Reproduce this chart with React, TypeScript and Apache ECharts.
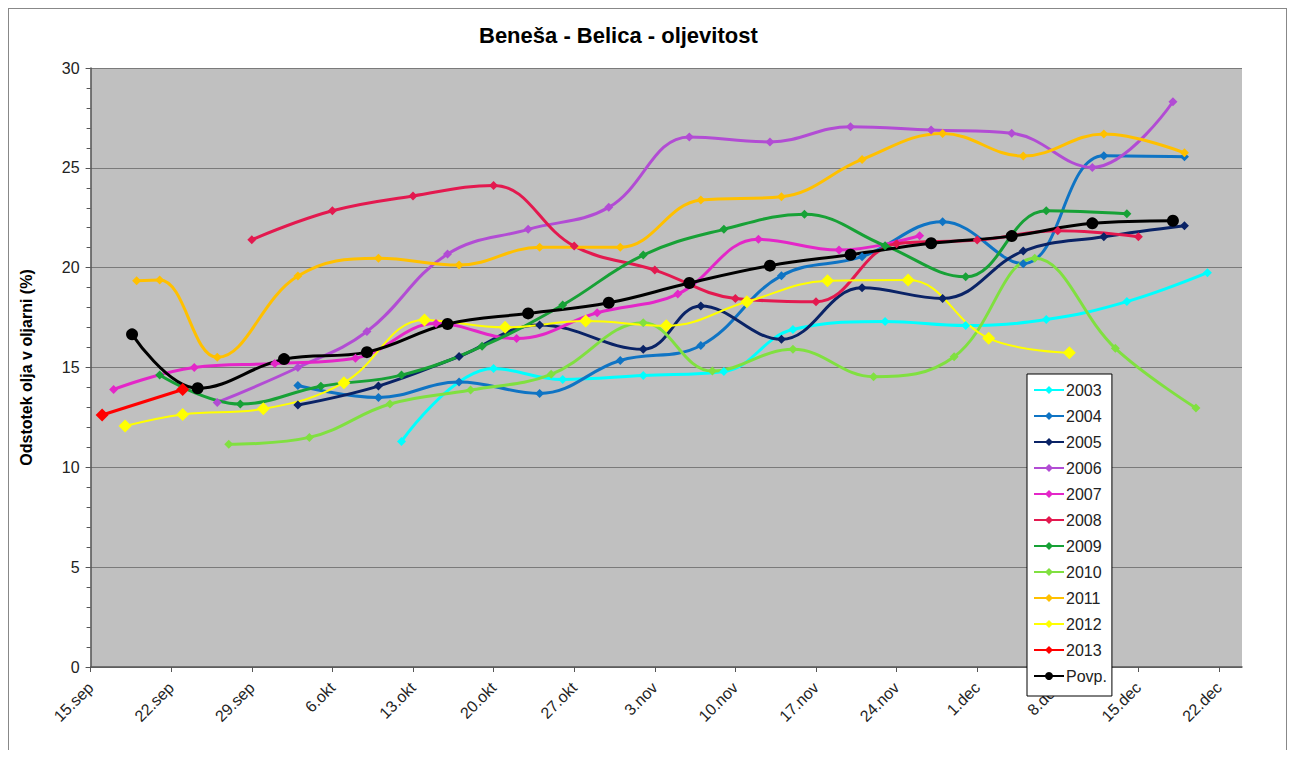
import React, { useEffect, useRef } from "react";
import * as echarts from "echarts";

// x values are days after 15 Sep
const tickLabels = ["15.sep", "22.sep", "29.sep", "6.okt", "13.okt", "20.okt", "27.okt", "3.nov", "10.nov", "17.nov", "24.nov", "1.dec", "8.dec", "15.dec", "22.dec"];

const days2003 = [27, 35, 41, 48, 55, 61, 69, 76, 83, 90, 97];
const vals2003 = [11.3, 14.95, 14.4, 14.6, 14.8, 16.9, 17.3, 17.1, 17.4, 18.3, 19.75];

const days2004 = [18, 25, 32, 39, 46, 53, 60, 67, 74, 81, 88, 95];
const vals2004 = [14.1, 13.5, 14.27, 13.7, 15.35, 16.1, 19.6, 20.55, 22.3, 20.2, 25.6, 25.55];

const days2005 = [18, 25, 32, 39, 48, 53, 60, 67, 74, 81, 88, 95];
const vals2005 = [13.12, 14.07, 15.55, 17.13, 15.91, 18.08, 16.41, 18.99, 18.46, 20.83, 21.55, 22.1];

const days2006 = [11, 18, 24, 31, 38, 45, 52, 59, 66, 73, 80, 87, 94];
const vals2006 = [13.25, 15.0, 16.8, 20.68, 21.92, 23.02, 26.55, 26.3, 27.06, 26.89, 26.73, 25.02, 28.31];

const days2007 = [2, 9, 16, 23, 30, 37, 44, 51, 58, 65, 72];
const vals2007 = [13.9, 15.0, 15.2, 15.46, 17.2, 16.45, 17.74, 18.68, 21.42, 20.88, 21.6];

const days2008 = [14, 21, 28, 35, 42, 49, 56, 63, 70, 77, 84, 91];
const vals2008 = [21.4, 22.85, 23.59, 24.12, 21.08, 19.88, 18.46, 18.29, 21.2, 21.38, 21.85, 21.55];

const days2009 = [6, 13, 20, 27, 34, 41, 48, 55, 62, 69, 76, 83, 90];
const vals2009 = [14.62, 13.17, 14.06, 14.62, 16.06, 18.13, 20.63, 21.92, 22.67, 21.1, 19.54, 22.85, 22.7];

const days2010 = [12, 19, 26, 33, 40, 48, 54, 61, 68, 75, 82, 89, 96];
const vals2010 = [11.15, 11.5, 13.17, 13.87, 14.66, 17.24, 14.82, 15.91, 14.54, 15.54, 20.47, 15.96, 12.97];

const days2011 = [4, 6, 11, 18, 25, 32, 39, 46, 53, 60, 67, 74, 81, 88, 95];
const vals2011 = [19.34, 19.38, 15.51, 19.58, 20.47, 20.13, 21.02, 21.02, 23.39, 23.55, 25.42, 26.72, 25.59, 26.69, 25.75];

const days2012 = [3, 8, 15, 22, 29, 36, 43, 50, 57, 64, 71, 78, 85];
const vals2012 = [12.07, 12.65, 12.93, 14.24, 17.38, 17.01, 17.33, 17.09, 18.29, 19.34, 19.38, 16.46, 15.74];

const days2013 = [1, 8];
const vals2013 = [12.62, 13.9];

const daysPovp = [3.6, 9.3, 16.8, 24, 31, 38, 45, 52, 59, 66, 73, 80, 87, 94];
const valsPovp = [16.66, 13.96, 15.42, 15.77, 17.18, 17.71, 18.24, 19.23, 20.1, 20.65, 21.22, 21.58, 22.22, 22.35];

const FONT = "'Liberation Sans', Arial, sans-serif";

const seriesCfg = [
  { name: "2003", days: days2003, vals: vals2003, color: "#00FFFF", symbol: "diamond", size: 9, width: 3 },
  { name: "2004", days: days2004, vals: vals2004, color: "#0F74C4", symbol: "diamond", size: 9, width: 3 },
  { name: "2005", days: days2005, vals: vals2005, color: "#0A2366", symbol: "diamond", size: 9, width: 3 },
  { name: "2006", days: days2006, vals: vals2006, color: "#B24CD4", symbol: "diamond", size: 9, width: 3 },
  { name: "2007", days: days2007, vals: vals2007, color: "#E426C8", symbol: "diamond", size: 9, width: 3 },
  { name: "2008", days: days2008, vals: vals2008, color: "#E3194F", symbol: "diamond", size: 9, width: 3 },
  { name: "2009", days: days2009, vals: vals2009, color: "#17A136", symbol: "diamond", size: 9, width: 3 },
  { name: "2010", days: days2010, vals: vals2010, color: "#80E040", symbol: "diamond", size: 9, width: 3 },
  { name: "2011", days: days2011, vals: vals2011, color: "#FFC000", symbol: "diamond", size: 9, width: 3 },
  { name: "2012", days: days2012, vals: vals2012, color: "#FFFF00", symbol: "diamond", size: 13, width: 2 },
  { name: "2013", days: days2013, vals: vals2013, color: "#FF0000", symbol: "diamond", size: 13, width: 3 },
  { name: "Povp.", days: daysPovp, vals: valsPovp, color: "#000000", symbol: "circle", size: 12, width: 3 },
];

export default function App() {
  const ref = useRef<HTMLDivElement>(null);
  useEffect(() => {
    if (!ref.current) return;
    const chart = echarts.init(ref.current, undefined, { renderer: "svg" });
    const tickValues = tickLabels.map((_, i) => i * 7);
    chart.setOption({
      animation: false,
      backgroundColor: "#ffffff",
      title: {
        text: "Beneša - Belica - oljevitost",
        left: 465,
        top: 10,
        textStyle: { fontFamily: FONT, fontSize: 22, fontWeight: "bold", color: "#000" },
      },
      grid: {
        left: 81.6,
        top: 59,
        width: 1151.4,
        height: 599,
        show: true,
        backgroundColor: "#C0C0C0",
        borderWidth: 0,
      },
      legend: {
        orient: "vertical",
        left: 1018,
        top: 365,
        padding: [8, 5, 12, 6],
        backgroundColor: "#ffffff",
        borderColor: "#000000",
        borderWidth: 1,
        borderRadius: 0,
        itemWidth: 30,
        itemHeight: 10,
        itemGap: 10,
        textStyle: { fontFamily: FONT, fontSize: 16, color: "#222", padding: [0, 0, 0, -3] },
        data: seriesCfg.map((s) => s.name),
      },
      xAxis: {
        type: "value",
        min: 0,
        max: 100,
        interval: 7,
        axisLine: { lineStyle: { color: "#555", width: 1.5 } },
        axisTick: { show: true, length: 5, lineStyle: { color: "#555" }, customValues: tickValues },
        splitLine: { show: false },
        axisLabel: {
          customValues: tickValues,
          rotate: 45,
          margin: 18,
          fontFamily: FONT,
          fontSize: 16,
          color: "#222",
          formatter: (v: number) => tickLabels[Math.round(v / 7)] ?? "",
        },
      },
      yAxis: {
        type: "value",
        min: 0,
        max: 30,
        interval: 5,
        name: "Odstotek olja v oljarni (%)",
        nameLocation: "middle",
        nameGap: 56,
        nameRotate: 90,
        nameTextStyle: { fontFamily: FONT, fontSize: 16, fontWeight: "bold", color: "#000" },
        axisLine: { show: true, lineStyle: { color: "#555", width: 1.5 } },
        axisTick: { show: true, length: 5, lineStyle: { color: "#555" } },
        minorTick: { show: true, splitNumber: 5, length: 4, lineStyle: { color: "#555" } },
        splitLine: { show: true, lineStyle: { color: "#7a7a7a", width: 1.2 } },
        axisLabel: { fontFamily: FONT, fontSize: 16, color: "#222", margin: 11 },
      },
      series: seriesCfg.map((s) => ({
        name: s.name,
        type: "line",
        smooth: 0.4,
        data: s.days.map((d, i) => [d, s.vals[i]]),
        symbol: s.symbol,
        symbolSize: s.size,
        showAllSymbol: true,
        lineStyle: { color: s.color, width: s.width },
        itemStyle: { color: s.color, borderWidth: 0 },
        emphasis: { disabled: true },
      })),
    });
    return () => chart.dispose();
  }, []);
  return (
    <div style={{ width: 1279, height: 742, borderTop: "1px solid #888", borderLeft: "1px solid #888", borderRight: "1px solid #888", boxSizing: "border-box", background: "#fff" }}>
      <div ref={ref} style={{ width: 1277, height: 740 }} />
    </div>
  );
}
